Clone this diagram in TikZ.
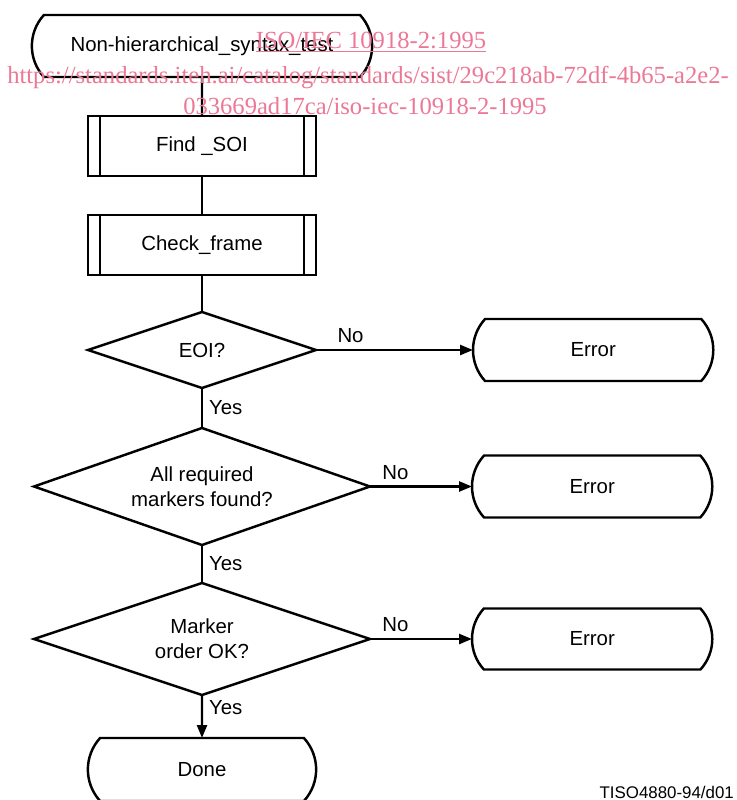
\documentclass[tikz,border=0pt]{standalone}
\usepackage{fontspec}
\setmainfont{Liberation Sans}
\newfontfamily\wmfont{Liberation Serif}
\usepackage{tikz}
\usetikzlibrary{positioning, arrows.meta, shapes.geometric, shapes.misc}

\definecolor{wmpink}{RGB}{236,120,150}

\begin{document}
\begin{tikzpicture}[
        font=\fontsize{11.6}{14}\selectfont,
        term/.style={rounded rectangle, rounded rectangle arc length=85, draw=black, line width=1.4pt, outer sep=0pt, align=center},
        proc/.style={rectangle, draw=black, line width=1.4pt, outer sep=0pt, minimum width=4.56cm, minimum height=1.2cm, align=center,
            path picture={
                \draw[line width=1.4pt] ([xshift=0.24cm]path picture bounding box.north west) -- ([xshift=0.24cm]path picture bounding box.south west);
                \draw[line width=1.4pt] ([xshift=-0.24cm]path picture bounding box.north east) -- ([xshift=-0.24cm]path picture bounding box.south east);
            }},
        decision/.style={diamond, aspect=3, inner sep=0pt, outer sep=0pt, draw=black, line width=1.4pt, align=center},
        line/.style={line width=1.4pt},
        arrow/.style={line width=1.4pt, -{Triangle[length=0.26cm, width=0.2cm]}},
        lbl/.style={font=\fontsize{11.6}{14}\selectfont}
    ]

    \useasboundingbox (0,0) rectangle (14.72,-16);

    \node[term, minimum width=7.04cm, minimum height=1.24cm] (start) at (4.04,-0.92) {Non-hierarchical\_syntax\_test};
    \node[proc, below=0.78cm of start] (findsoi) {Find \_SOI};
    \node[proc, below=0.78cm of findsoi] (checkframe) {Check\_frame};

    \node[decision, minimum width=4.56cm, minimum height=1.52cm, below=0.74cm of checkframe] (eoi) {EOI?};
    \node[term, minimum width=5.04cm, minimum height=1.24cm, right=3.14cm of eoi] (err1) {Error};

    \node[decision, minimum width=6.72cm, minimum height=2.34cm, below=0.8cm of eoi] (markers) {All required\\markers found?};
    \node[term, minimum width=5.04cm, minimum height=1.24cm, right=2.04cm of markers] (err2) {Error};

    \node[decision, minimum width=6.72cm, minimum height=2.24cm, below=0.76cm of markers] (order) {Marker\\order OK?};
    \node[term, minimum width=5.04cm, minimum height=1.22cm, right=2.04cm of order] (err3) {Error};

    \node[term, minimum width=4.8cm, minimum height=1.26cm, below=0.86cm of order] (done) {Done};

    \draw[line] (start) -- (findsoi);
    \draw[line] (findsoi) -- (checkframe);
    \draw[line] (checkframe) -- (eoi);
    \draw[line] (eoi) -- node[lbl, right] {Yes} (markers);
    \draw[line] (markers) -- node[lbl, right] {Yes} (order);
    \draw[arrow] (order) -- node[lbl, right, pos=0.3] {Yes} (done);

    \draw[arrow] (eoi.east) -- node[lbl, above, pos=0.22] {No} (err1.west);
    \draw[arrow] (markers.east) -- node[lbl, above, pos=0.25] {No} (err2.west);
    \draw[arrow] (order.east) -- node[lbl, above, pos=0.25] {No} (err3.west);

    \node[anchor=south east, font=\fontsize{9.6}{11}\selectfont] (figid) at (14.8,-16.1) {TISO4880-94/d01};

    % watermark
    \node[text=wmpink, font=\wmfont\fontsize{14}{16}\selectfont] (wm1) at (7.42,-0.84) {\underline{ISO/IEC 10918-2:1995}};
    \node[text=wmpink, font=\wmfont\fontsize{14}{16}\selectfont] (wm2) at (7.36,-1.54) {https://standards.iteh.ai/catalog/standards/sist/29c218ab-72df-4b65-a2e2-};
    \node[text=wmpink, font=\wmfont\fontsize{14}{16}\selectfont] (wm3) at (7.3,-2.12) {033669ad17ca/iso-iec-10918-2-1995};

\end{tikzpicture}
\end{document}
